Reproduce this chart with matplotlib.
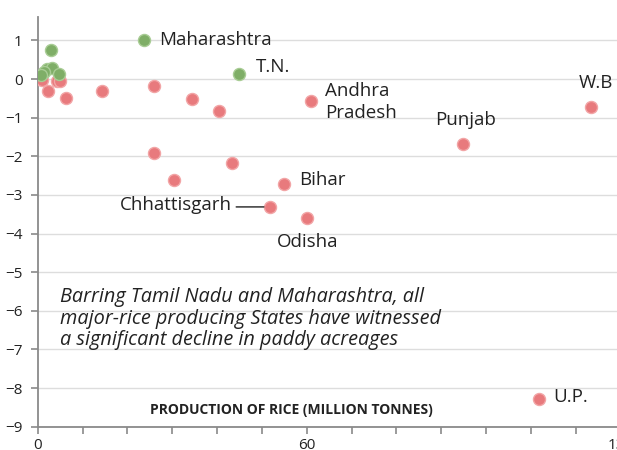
import matplotlib.pyplot as plt

# production of rice (million tonnes) vs change in paddy area
green_x = [23.7, 44.9, 3.0, 2.1, 3.2, 1.4, 0.7, 4.8]
green_y = [1.0, 0.14, 0.76, 0.27, 0.29, 0.19, 0.11, 0.14]

red_x = [0.0, 0.9, 2.2, 4.2, 5.0, 6.25, 14.4, 26.0, 34.5, 40.5, 61.0,
         26.0, 43.4, 30.5, 55.0, 51.7, 60.1, 94.9, 123.5, 111.9]
red_y = [0.0, -0.02, -0.30, -0.04, -0.06, -0.50, -0.30, -0.17, -0.52, -0.82, -0.56,
         -1.91, -2.17, -2.61, -2.71, -3.31, -3.59, -1.68, -0.72, -8.28]

labels = ["Maharashtra", "T.N.", "Andhra\nPradesh", "Punjab", "W.B",
          "Bihar", "Chhattisgarh", "Odisha", "U.P."]
label_pts = [(23.7, 1.0), (44.9, 0.14), (61.0, -0.56), (94.9, -1.68), (123.5, -0.72),
             (55.0, -2.71), (51.7, -3.31), (60.1, -3.59), (111.9, -8.28)]

plt.rcParams['font.family'] = ['Open Sans', 'DejaVu Sans']

fig = plt.figure(figsize=(6.17, 4.5), dpi=100)
ax = fig.add_axes([0.0611, 0.0518, 0.9593, 0.9098])

ax.scatter(red_x, red_y, s=75, color='#e87a7d', edgecolor='#f2a5a6', linewidth=1.0, zorder=3)
ax.scatter(green_x, green_y, s=75, color='#7fae67', edgecolor='#a8cc94', linewidth=1.0, zorder=4)

ax.set_xlim(0, 132)
ax.set_ylim(-9, 1.6)
ax.set_yticks(range(-9, 2))
ax.set_xticks(range(0, 131, 10))
ax.set_xticklabels(['0' if v == 0 else '60' if v == 60 else '130' if v == 130 else '' for v in range(0, 131, 10)])
ax.grid(axis='y', color='#dddddd', linewidth=1)
ax.set_axisbelow(True)
for s in ['top', 'right']:
    ax.spines[s].set_visible(False)
for s in ['left', 'bottom']:
    ax.spines[s].set_color('#8a8a8a')
    ax.spines[s].set_linewidth(1.3)
ax.tick_params(axis='both', colors='#8a8a8a', labelcolor='#222222', labelsize=11, length=5, width=1.2)
ax.tick_params(axis='y', pad=6)
ax.tick_params(axis='x', pad=3)

txt = dict(fontsize=13.5, color='#222222')
offsets = [(11, 0, 'left', 'center'), (12, 5, 'left', 'center'), (10, -1, 'left', 'center'),
           (2, 11, 'center', 'bottom'), (-9, 11, 'left', 'bottom'), (11, 3, 'left', 'center'),
           (-27, 1.5, 'right', 'center'), (0, -11, 'center', 'top'), (10, 1.5, 'left', 'center')]
for lab, (px, py), (dx, dy, ha, va) in zip(labels, label_pts, offsets):
    ax.annotate(lab, (px, py), xytext=(dx, dy), textcoords='offset points',
                ha=ha, va=va, linespacing=1.25, **txt)
# leader line for Chhattisgarh
ax.annotate('', (51.7, -3.31), xytext=(-24, 0), textcoords='offset points',
            arrowprops=dict(arrowstyle='-', color='#222222', lw=1, shrinkA=0, shrinkB=4))

ax.text(4.9, -6.2, "Barring Tamil Nadu and Maharashtra, all\n"
        "major-rice producing States have witnessed\n"
        "a significant decline in paddy acreages",
        fontsize=14.3, style='italic', color='#222222', va='center', ha='left', linespacing=1.1)

ax.text(56.5, -8.58, "PRODUCTION OF RICE (MILLION TONNES)", fontsize=10, fontweight='bold',
        color='#222222', ha='center', va='center')

fig.savefig('out.png', dpi=100)
